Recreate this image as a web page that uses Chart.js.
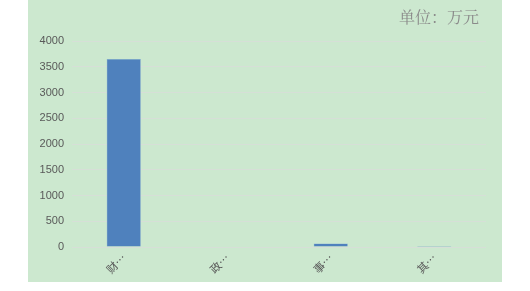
<!DOCTYPE html>
<html><head><meta charset="utf-8">
<script src="https://cdn.jsdelivr.net/npm/chart.js@4/dist/chart.umd.min.js"></script>
<style>
html,body{margin:0;padding:0;background:#fff;}
#box{position:absolute;left:28px;top:0;width:474px;height:282px;background:#CCE8CF;}
canvas{display:block;}
</style></head><body>
<div id="box"><canvas id="c" width="474" height="282"></canvas></div>
<script>
const categories = ["财…","政…","事…","其…"];
const values = [3650, 0, 70, 20];
const yTicks = [0,500,1000,1500,2000,2500,3000,3500,4000];
const unitTitle = "单位：万元";

const titlePlugin = {
  id:'unitTitle',
  afterDraw(chart){
    const ctx = chart.ctx;
    ctx.save();
    ctx.font = '16px "Noto Serif CJK SC","Noto Sans CJK SC",serif';
    ctx.fillStyle = '#8a8a8a';
    ctx.textAlign = 'right';
    ctx.textBaseline = 'middle';
    ctx.fillText(unitTitle, 451, 17);
    ctx.restore();
  }
};

new Chart(document.getElementById('c'), {
  type:'bar',
  data:{labels:categories, datasets:[{data:values, backgroundColor:'#4F81BD', borderColor:'#7FA7D6', borderWidth:0.5, categoryPercentage:1, barPercentage:0.33}]},
  options:{
    responsive:false, animation:false,
    layout:{padding:{top:41,right:16,bottom:0,left:0}},
    plugins:{legend:{display:false}, tooltip:{enabled:false}},
    scales:{
      x:{
        grid:{display:false}, border:{display:false},
        ticks:{color:'#595959', font:{size:11,family:'"Noto Sans CJK SC"'}, maxRotation:45, minRotation:45, padding:-4},
        afterFit(s){ s.height = 35; }
      },
      y:{
        min:0, max:4000,
        afterBuildTicks(s){ s.ticks = yTicks.map(v=>({value:v})); },
        grid:{color:'rgba(215,222,215,0.9)', lineWidth:1, drawTicks:false},
        border:{display:false},
        ticks:{color:'#595959', font:{size:11,family:'"Liberation Sans"'}, padding:8, callback:(v)=>String(v)},
        afterFit(s){ s.width = 44; }
      }
    }
  },
  plugins:[titlePlugin]
});
</script></body></html>
